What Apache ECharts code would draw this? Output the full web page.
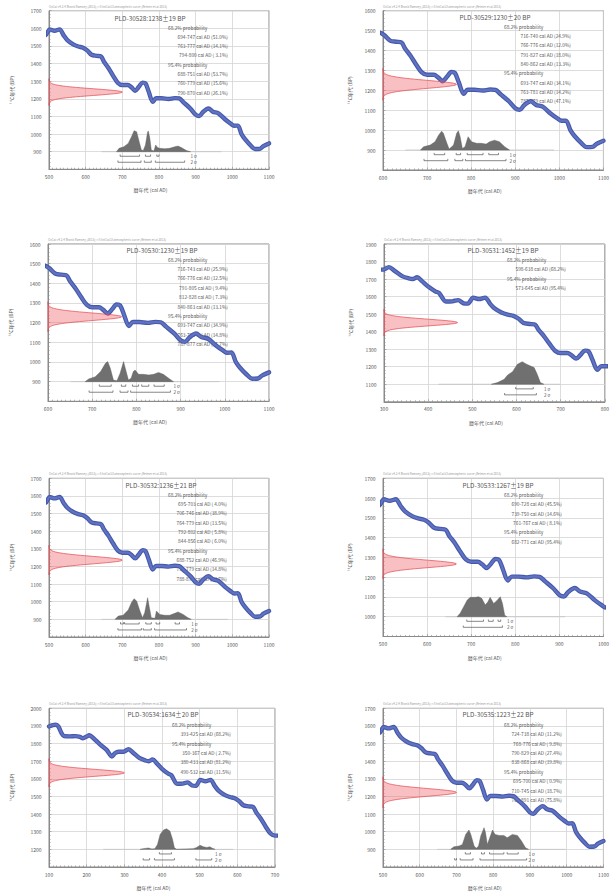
<!DOCTYPE html>
<html>
<head>
<meta charset="utf-8">
<script src="https://cdn.jsdelivr.net/npm/echarts@6/dist/echarts.min.js"></script>
<style>
html, body { margin: 0; padding: 0; background: #fff; }
#c { width: 612px; height: 892px; }
</style>
</head>
<body>
<div id="c"></div>
<script>
// IntCal13 atmospheric calibration curve, centre line (cal AD vs 14C BP)
const curveYears = [100,110,118,125,133,140,155,170,182,190,200,207,218,236,253,267,275,285,298,311,324,341,356,365,375,386,400,416,425,440,455,468,480,490,502,515,529,540,550,566,580,593,604,616,630,642,650,662,675,688,700,715,725,735,745,755,763,772,783,792,807,826,843,855,867,886,900,910,920,935,947,962,980,995,1005,1015,1025,1034,1050,1062,1075,1085,1100];
const curveBP = [1897,1905,1907,1897,1860,1842,1841,1842,1838,1830,1840,1847,1830,1794,1764,1727,1745,1754,1754,1768,1747,1717,1704,1700,1710,1688,1657,1630,1620,1572,1573,1580,1562,1560,1594,1586,1594,1560,1533,1509,1497,1490,1475,1450,1444,1440,1410,1375,1330,1290,1278,1278,1265,1246,1268,1292,1288,1240,1183,1203,1203,1199,1204,1202,1180,1144,1110,1102,1125,1145,1127,1118,1084,1060,1047,1048,1000,972,935,915,916,932,947];

// Measured samples
const samples = ['PLD-30528','PLD-30529','PLD-30530','PLD-30531','PLD-30532','PLD-30533','PLD-30534','PLD-30535'];
const c14Age = [1238,1230,1230,1452,1236,1267,1634,1223];
const c14Err = [19,20,19,19,21,19,20,22];

// Axis extents of each plot
const xMin = [500,600,600,300,500,500,100,500];
const xMax = [1100,1100,1100,800,1100,1000,700,1100];
const yMin = [800,800,800,1000,800,900,1100,800];
const yMax = [1700,1600,1600,1900,1700,1700,2000,1700];

// Calibrated ranges [from, to, probability %]
const range68 = [
  [[694,747,51.0],[763,777,14.1],[794,800,3.1]],
  [[716,740,24.9],[766,776,12.0],[791,827,18.0],[840,862,13.3]],
  [[716,743,25.9],[766,776,12.5],[791,805,9.4],[812,828,7.3],[840,863,13.1]],
  [[598,638,68.2]],
  [[695,703,4.0],[706,746,38.9],[764,779,13.5],[792,802,5.8],[844,856,6.0]],
  [[690,728,45.5],[739,750,14.6],[761,767,8.1]],
  [[393,425,68.2]],
  [[724,738,11.2],[768,776,9.8],[790,829,27.4],[838,868,19.8]]
];
const range95 = [
  [[688,751,53.7],[760,779,15.6],[790,870,26.1]],
  [[693,747,34.1],[763,781,14.2],[787,879,47.1]],
  [[693,747,34.9],[763,781,14.8],[787,877,45.7]],
  [[573,645,95.4]],
  [[688,752,46.9],[757,779,14.8],[788,875,33.7]],
  [[682,771,95.4]],
  [[350,367,2.7],[380,433,81.2],[490,532,11.5]],
  [[695,700,0.9],[710,745,18.7],[764,891,75.8]]
];

// Calibrated probability distributions [cal AD, relative height]
const prob30528 = [[684,0],[691,19],[704,28],[716,47],[725,85],[732,119],[739,113],[746,57],[752,9],[757,6],[763,38],[769,113],[771,117],[775,76],[779,9],[786,4],[791,38],[796,23],[802,19],[816,17],[829,19],[843,28],[852,32],[861,23],[875,6],[886,0]];
const prob30529 = [[685,0],[692,17],[707,25],[718,42],[726,75],[733,95],[737,84],[745,34],[750,5],[760,25],[767,84],[771,97],[775,67],[780,8],[786,17],[793,67],[801,42],[812,34],[823,34],[834,30],[842,42],[853,50],[864,42],[876,17],[887,0]];
const prob30530 = [[684,0],[692,14],[707,25],[719,51],[730,93],[735,102],[741,68],[748,8],[756,5],[763,42],[771,102],[774,76],[782,8],[788,17],[793,51],[797,59],[805,37],[816,37],[828,34],[839,37],[850,47],[861,37],[873,17],[884,0]];
const prob30531 = [[543,0],[557,10],[572,28],[580,53],[591,72],[602,114],[613,129],[623,114],[632,104],[640,95],[647,57],[654,10],[662,0]];
const prob30532 = [[680,0],[689,19],[702,23],[716,53],[725,95],[732,117],[739,104],[748,47],[755,9],[761,38],[769,123],[773,76],[779,9],[789,6],[793,47],[802,28],[816,23],[829,23],[843,34],[852,42],[866,28],[879,9],[888,0]];
const prob30533 = [[668,0],[675,17],[683,51],[691,84],[698,98],[709,98],[717,101],[724,93],[732,59],[738,76],[743,98],[751,67],[758,81],[766,101],[771,67],[776,8],[781,0]];
const prob30534 = [[342,0],[350,4],[364,8],[373,2],[381,4],[388,28],[395,85],[404,110],[412,117],[421,104],[428,57],[433,9],[439,0],[461,2],[483,4],[492,11],[501,23],[510,15],[519,11],[527,15],[534,6],[541,0]];
const prob30535 = [[684,0],[693,15],[707,19],[716,28],[725,85],[734,110],[739,85],[748,19],[754,6],[760,19],[766,76],[775,123],[779,95],[784,28],[789,57],[798,110],[805,85],[816,79],[829,79],[838,66],[852,85],[866,79],[877,47],[888,9],[896,0]];
const probCurves = [prob30528, prob30529, prob30530, prob30531, prob30532, prob30533, prob30534, prob30535];

// Extent of the low tail of each distribution
const tails = [[643,970],[651,988],[651,988],[423,699],[643,988],[642,913],[244,589],[648,997]];

// Plot boxes [left, top, width, height]
const gridBoxes = [
  [49, 10.7, 220, 158.6],
  [383, 10.7, 221, 159.3],
  [48, 244, 221, 157.3],
  [384, 244, 222, 157.8],
  [49, 478.3, 220, 158.7],
  [383, 478.3, 221, 158.2],
  [49, 708.3, 226, 158.7],
  [383, 708.3, 221, 158.7]
];
// Text block placement per plot
const textLayout = [
  {tx:150, ty:18, left:168, right:228, top:27, gap:9.3},
  {tx:495, ty:17, left:504, right:571, top:26, gap:9.35},
  {tx:162, ty:250.7, left:168, right:228, top:259, gap:9.4},
  {tx:503, ty:250, left:507, right:566, top:259.3, gap:9.35},
  {tx:161, ty:485, left:168, right:227, top:494.3, gap:9.33},
  {tx:498, ty:485, left:504, right:562, top:494.3, gap:9.35},
  {tx:163, ty:714.3, left:172, right:231, top:724.3, gap:9.4},
  {tx:498, ty:714.3, left:504, right:562, top:724.3, gap:9.4}
];

const headerText = 'OxCal v4.2.4 Bronk Ramsey (2013); r:5 IntCal13 atmospheric curve (Reimer et al 2013)';
const FONT = '"Noto Sans CJK JP", "Noto Sans", sans-serif';
const TXT = '#555';

function pct(p) {
  return p < 10 ? '( ' + p.toFixed(1) + '%)' : '(' + p.toFixed(1) + '%)';
}
function txt(x, y, text, size, align, color) {
  return {
    type: 'text', x: x, y: y, z: 1, silent: true,
    style: {
      text: text, fill: color || TXT, fontSize: size, fontFamily: FONT,
      textAlign: align, align: align,
      textVerticalAlign: 'middle', verticalAlign: 'middle'
    }
  };
}
const plain = v => String(v);

const chart = echarts.init(document.getElementById('c'), null, {renderer: 'svg', width: 612, height: 892});
const curveData = curveYears.map((x, k) => [x, curveBP[k]]);
const grids = [], xAxes = [], yAxes = [], series = [], graphics = [];

samples.forEach((id, i) => {
  const [gl, gt, gw, gh] = gridBoxes[i];
  const right = i % 2 === 1;
  grids.push({left: gl, top: gt, width: gw, height: gh, show: true,
    borderColor: '#8a8a8a', borderWidth: 1, backgroundColor: '#fff'});

  xAxes.push({
    type: 'value', gridIndex: i, min: xMin[i], max: xMax[i], interval: 100,
    axisLine: {show: true, onZero: false, lineStyle: {color: '#8a8a8a', width: 1}},
    axisTick: {show: true, inside: true, length: 2.5, lineStyle: {color: '#8a8a8a', width: 0.6}},
    minorTick: {show: true, splitNumber: 10, length: 1.6, lineStyle: {color: '#8a8a8a', width: 0.6}},
    splitLine: {show: true, lineStyle: {color: '#d4d4d4', width: 0.8}},
    axisLabel: {fontSize: 5, color: TXT, margin: 4.5, fontFamily: FONT, formatter: plain},
    name: '暦年代 (cal AD)', nameLocation: 'middle', nameGap: 18,
    nameTextStyle: {fontSize: 5, color: TXT, fontFamily: FONT, padding: [0, 17, 0, 0]}
  });
  yAxes.push({
    type: 'value', gridIndex: i, min: yMin[i], max: yMax[i], interval: 100,
    axisLine: {show: true, onZero: false, lineStyle: {color: '#8a8a8a', width: 1}},
    axisTick: {show: true, inside: true, length: 2.5, lineStyle: {color: '#8a8a8a', width: 0.6}},
    minorTick: {show: true, splitNumber: 5, length: 1.6, lineStyle: {color: '#8a8a8a', width: 0.6}},
    splitLine: {show: true, lineStyle: {color: '#d4d4d4', width: 0.8}},
    axisLabel: {fontSize: 5, color: TXT, margin: 7.5, fontFamily: FONT, showMinLabel: false, formatter: plain},
    name: '¹⁴C年代 (BP)', nameLocation: 'middle', nameGap: right ? 31 : 35, nameRotate: 90,
    nameTextStyle: {fontSize: 5, color: TXT, fontFamily: FONT}
  });

  const base = yMin[i] + 100;
  const ax = {xAxisIndex: i, yAxisIndex: i, animation: false, silent: true};

  // faint tail of the calibrated distribution
  series.push(Object.assign({
    type: 'line', data: tails[i].map(x => [x, base]), symbol: 'none', z: 2,
    lineStyle: {color: '#c8c8c8', width: 1}
  }, ax));

  // calibrated probability distribution
  series.push(Object.assign({
    type: 'custom', data: [[xMin[i], yMin[i]]], z: 3,
    renderItem: (params, api) => ({
      type: 'polygon',
      shape: {points: probCurves[i].map(d => api.coord([d[0], base + d[1]]))},
      style: {fill: '#707070', stroke: '#5e5e5e', lineWidth: 0.4}
    })
  }, ax));

  // 1σ / 2σ range brackets
  const brackets = range68[i].map(r => [r[0], r[1], 1]).concat(range95[i].map(r => [r[0], r[1], 2]));
  series.push(Object.assign({
    type: 'custom', data: brackets, z: 3,
    renderItem: (params, api) => {
      const a = api.coord([api.value(0), base]);
      const b = api.coord([api.value(1), base]);
      const y = a[1] + (api.value(2) === 1 ? 4.6 : 10.6);
      return {
        type: 'polyline',
        shape: {points: [[a[0], y - 1.8], [a[0], y], [b[0], y], [b[0], y - 1.8]]},
        style: {stroke: '#555', lineWidth: 0.7, fill: null}
      };
    }
  }, ax));

  // bracket labels after the distribution's end
  const last = probCurves[i][probCurves[i].length - 1][0];
  series.push(Object.assign({
    type: 'custom', data: [[last, base]], z: 3,
    renderItem: (params, api) => {
      const p = api.coord([api.value(0), api.value(1)]);
      const st = (t, dy) => ({
        type: 'text', x: p[0], y: p[1] + dy,
        style: {text: t, fill: TXT, fontSize: 4.6, fontFamily: FONT, align: 'left', verticalAlign: 'middle'}
      });
      return {type: 'group', children: [st('1 σ', 4.6), st('2 σ', 10.6)]};
    }
  }, ax));

  // IntCal13 curve band
  series.push(Object.assign({
    type: 'line', data: curveData, symbol: 'none', smooth: 0.3, z: 4, clip: true,
    lineStyle: {color: '#4658aa', width: 4.4, cap: 'round', join: 'round'}
  }, ax));
  series.push(Object.assign({
    type: 'line', data: curveData, symbol: 'none', smooth: 0.3, z: 4, clip: true,
    lineStyle: {color: '#6072c2', width: 2.2, cap: 'round', join: 'round'}
  }, ax));

  // radiocarbon age as a normal distribution on the BP axis
  series.push(Object.assign({
    type: 'custom', data: [[xMin[i], c14Age[i]]], z: 5,
    renderItem: (params, api) => {
      const mu = c14Age[i], sd = c14Err[i];
      const reach = (xMax[i] - xMin[i]) / 3;
      const pts = [];
      for (let k = -40; k <= 40; k++) {
        const y = mu + k * sd / 10;
        pts.push(api.coord([xMin[i] + reach * Math.exp(-(k * k) / 200), y]));
      }
      return {
        type: 'polygon', shape: {points: pts},
        style: {fill: 'rgba(238,105,110,0.42)', stroke: '#e2464d', lineWidth: 0.7}
      };
    }
  }, ax));

  // texts
  const L = textLayout[i];
  graphics.push(txt(gl, gt - 4, headerText, 3, 'left', '#9a9a9a'));
  graphics.push(txt(L.tx, L.ty, id + ':' + c14Age[i] + '±' + c14Err[i] + ' BP', 6.4, 'center'));
  let row = 0;
  graphics.push(txt(L.left, L.top + row++ * L.gap, '68.2% probability', 4.8, 'left'));
  range68[i].forEach(r => graphics.push(txt(L.right, L.top + row++ * L.gap, r[0] + '-' + r[1] + ' cal AD ' + pct(r[2]), 4.8, 'right')));
  graphics.push(txt(L.left, L.top + row++ * L.gap, '95.4% probability', 4.8, 'left'));
  range95[i].forEach(r => graphics.push(txt(L.right, L.top + row++ * L.gap, r[0] + '-' + r[1] + ' cal AD ' + pct(r[2]), 4.8, 'right')));
});

chart.setOption({
  animation: false,
  backgroundColor: '#fff',
  textStyle: {fontFamily: FONT},
  grid: grids,
  xAxis: xAxes,
  yAxis: yAxes,
  series: series,
  graphic: {elements: graphics}
});
</script>
</body>
</html>
